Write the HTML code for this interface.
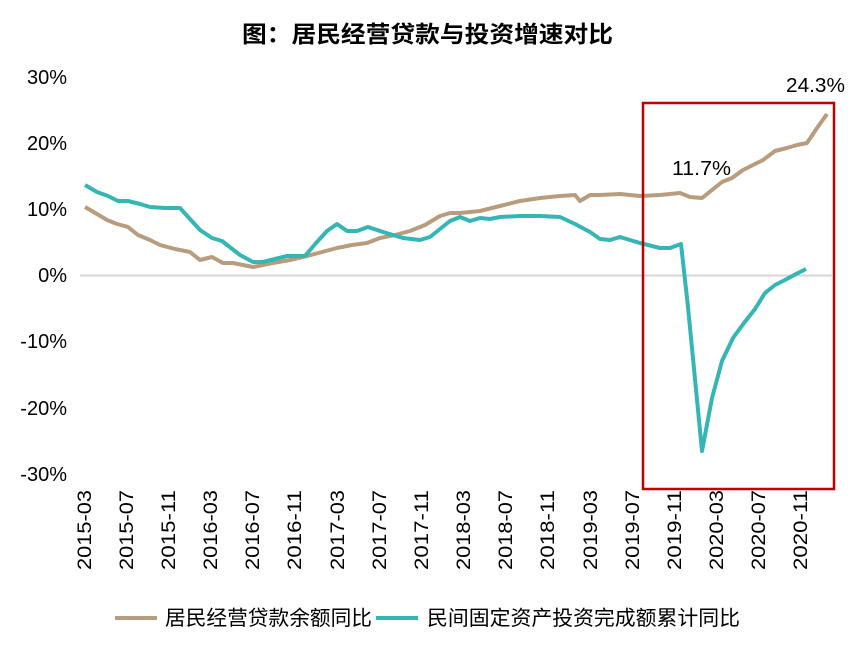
<!DOCTYPE html>
<html><head><meta charset="utf-8"><style>
body{margin:0;background:#fff;}
svg text{font-family:"Liberation Sans","Noto Sans CJK SC",sans-serif;}
</style></head><body>
<svg width="856" height="651" viewBox="0 0 856 651" xmlns="http://www.w3.org/2000/svg">
<text x="242" y="42" font-size="23" font-weight="bold" fill="#000" textLength="371" lengthAdjust="spacingAndGlyphs">图：居民经营贷款与投资增速对比</text>
<line x1="80" y1="275.5" x2="832" y2="275.5" stroke="#d6d6d6" stroke-width="2"/>
<g font-size="20" fill="#000" text-anchor="end">
<text x="67" y="84">30%</text>
<text x="67" y="150">20%</text>
<text x="67" y="216">10%</text>
<text x="67" y="282">0%</text>
<text x="67" y="348">-10%</text>
<text x="67" y="415">-20%</text>
<text x="67" y="481">-30%</text>
</g>
<g font-size="19" fill="#000" text-anchor="end">
<text transform="translate(91,490) rotate(-90)" textLength="80" lengthAdjust="spacingAndGlyphs">2015-03</text>
<text transform="translate(133,490) rotate(-90)" textLength="80" lengthAdjust="spacingAndGlyphs">2015-07</text>
<text transform="translate(175,490) rotate(-90)" textLength="80" lengthAdjust="spacingAndGlyphs">2015-11</text>
<text transform="translate(217,490) rotate(-90)" textLength="80" lengthAdjust="spacingAndGlyphs">2016-03</text>
<text transform="translate(259,490) rotate(-90)" textLength="80" lengthAdjust="spacingAndGlyphs">2016-07</text>
<text transform="translate(301,490) rotate(-90)" textLength="80" lengthAdjust="spacingAndGlyphs">2016-11</text>
<text transform="translate(344,490) rotate(-90)" textLength="80" lengthAdjust="spacingAndGlyphs">2017-03</text>
<text transform="translate(386,490) rotate(-90)" textLength="80" lengthAdjust="spacingAndGlyphs">2017-07</text>
<text transform="translate(428,490) rotate(-90)" textLength="80" lengthAdjust="spacingAndGlyphs">2017-11</text>
<text transform="translate(470,490) rotate(-90)" textLength="80" lengthAdjust="spacingAndGlyphs">2018-03</text>
<text transform="translate(512,490) rotate(-90)" textLength="80" lengthAdjust="spacingAndGlyphs">2018-07</text>
<text transform="translate(554,490) rotate(-90)" textLength="80" lengthAdjust="spacingAndGlyphs">2018-11</text>
<text transform="translate(597,490) rotate(-90)" textLength="80" lengthAdjust="spacingAndGlyphs">2019-03</text>
<text transform="translate(639,490) rotate(-90)" textLength="80" lengthAdjust="spacingAndGlyphs">2019-07</text>
<text transform="translate(681,490) rotate(-90)" textLength="80" lengthAdjust="spacingAndGlyphs">2019-11</text>
<text transform="translate(723,490) rotate(-90)" textLength="80" lengthAdjust="spacingAndGlyphs">2020-03</text>
<text transform="translate(765,490) rotate(-90)" textLength="80" lengthAdjust="spacingAndGlyphs">2020-07</text>
<text transform="translate(807,490) rotate(-90)" textLength="80" lengthAdjust="spacingAndGlyphs">2020-11</text>
</g>
<polyline fill="none" stroke="#b79d7e" stroke-width="4" stroke-linejoin="round" points="85,207 97,214 107,220 117,224 128,227 138,235 150,240 160,245 175,249 190,252 200,260 212,257 223,263 233,263 253,267 273,263 290,260 307,256 322,252 337,248 352,245 367,243 380,238 395,235 410,231 425,225 440,216 450,213 460,213 480,211 500,206 520,201 540,198 560,196 575,195 580,201 590,195 600,195 620,194 640,196 660,195 680,193 690,197 702,198 712,190 722,182 732,178 743,170 753,165 763,160 775,151 787,148 797,145 807,143 817,128 827,114"/>
<polyline fill="none" stroke="#36b5b5" stroke-width="4" stroke-linejoin="round" points="85,185 97,192 108,196 118,201 128,201 140,204 150,207 165,208 180,208 190,219 200,230 212,238 222,241 231,248 240,255 253,262 263,262 275,259 287,256 297,256 305,256 316,243 327,231 337,224 347,231 357,231 368,227 383,232 393,235 403,238 420,240 430,237 440,229 450,221 460,217 470,221 480,218 490,219 500,217 520,216 540,216 560,217 575,224 590,232 600,239 610,240 620,237 630,240 640,243 660,248 670,248 681,244 688,307 702,451 712,398 722,361 733,338 744,323 755,309 765,293 775,285 785,280 796,274 806,269"/>
<rect x="643" y="103" width="191" height="386" fill="none" stroke="#c00000" stroke-width="2.5"/>
<text x="672" y="175" font-size="20" fill="#000" textLength="59" lengthAdjust="spacingAndGlyphs">11.7%</text>
<text x="786" y="92" font-size="20" fill="#000" textLength="59" lengthAdjust="spacingAndGlyphs">24.3%</text>
<line x1="115" y1="618" x2="157" y2="618" stroke="#b79d7e" stroke-width="4"/>
<text x="165" y="625" font-size="20.5" fill="#000" textLength="207" lengthAdjust="spacingAndGlyphs">居民经营贷款余额同比</text>
<line x1="376" y1="618" x2="418" y2="618" stroke="#36b5b5" stroke-width="4"/>
<text x="427" y="625" font-size="20.5" fill="#000" textLength="313" lengthAdjust="spacingAndGlyphs">民间固定资产投资完成额累计同比</text>
</svg>
</body></html>
